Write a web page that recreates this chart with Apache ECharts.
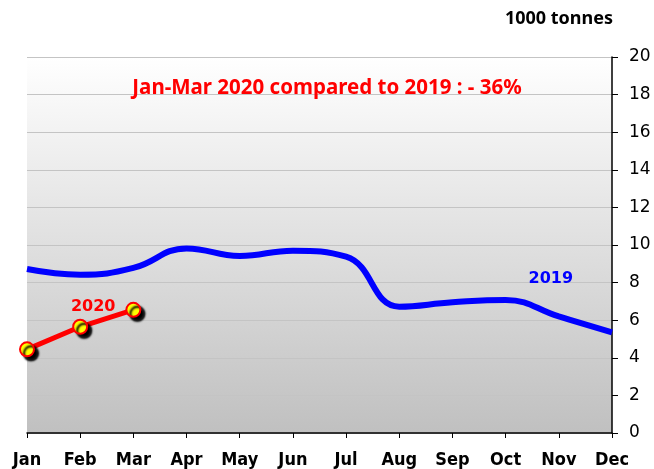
<!DOCTYPE html>
<html>
<head>
<meta charset="utf-8">
<script src="https://cdn.jsdelivr.net/npm/echarts@6/dist/echarts.min.js"></script>
<style>
html,body{margin:0;padding:0;background:#fff;}
#chart{width:654px;height:469px;}
</style>
</head>
<body>
<div id="chart"></div>
<script>
// Monthly volumes, 1000 tonnes
const months = ['Jan','Feb','Mar','Apr','May','Jun','Jul','Aug','Sep','Oct','Nov','Dec'];
const values2019 = [8.72, 8.42, 8.78, 9.82, 9.42, 9.7, 9.38, 6.72, 6.95, 7.08, 6.2, 5.35];
const values2020 = [4.45, 5.65, 6.55];
const yTicks = [0, 2, 4, 6, 8, 10, 12, 14, 16, 18, 20];

const chart = echarts.init(document.getElementById('chart'));

const seriesLabelFont = { fontFamily: 'DejaVu Sans', fontWeight: 'bold', fontSize: 16 };

chart.setOption({
  animation: false,
  title: [
    {
      text: 'Jan-Mar 2020 compared to 2019 : - 36%',
      left: 322, top: 73, textAlign: 'center',
      textStyle: { color: '#ff0000', fontFamily: 'Noto Sans', fontWeight: 'bold', fontSize: 20.5 }
    },
    {
      text: '1000 tonnes',
      right: 36, top: 5,
      textStyle: { color: '#000', fontFamily: 'Noto Sans', fontWeight: 'bold', fontSize: 18 }
    }
  ],
  grid: {
    left: 27, right: 42, top: 57, bottom: 34,
    show: true, borderWidth: 0,
    backgroundColor: {
      type: 'linear', x: 0, y: 0, x2: 0, y2: 1,
      colorStops: [{ offset: 0, color: '#ffffff' }, { offset: 1, color: '#c0c0c0' }]
    }
  },
  xAxis: {
    type: 'category',
    data: months,
    boundaryGap: false,
    axisLine: { lineStyle: { color: '#000', width: 1.5 } },
    axisTick: { show: true, length: 5, lineStyle: { color: '#000' } },
    axisLabel: {
      color: '#000', fontFamily: 'DejaVu Sans Condensed', fontWeight: 'bold', fontSize: 18,
      margin: 18, interval: 0
    }
  },
  yAxis: {
    type: 'value',
    position: 'right',
    min: yTicks[0], max: yTicks[yTicks.length - 1], interval: 2,
    axisLine: { show: true, lineStyle: { color: '#000', width: 1.5 } },
    axisTick: { show: true, length: 6, lineStyle: { color: '#000' } },
    axisLabel: { color: '#000', fontFamily: 'DejaVu Sans', fontSize: 17, margin: 17 },
    splitLine: { show: true, lineStyle: { color: '#c4c4c4', width: 1.2 } }
  },
  series: [
    {
      name: '2019',
      type: 'line',
      smooth: 0.45,
      data: values2019,
      symbol: 'none',
      lineStyle: { color: '#0000ff', width: 6 },
      markPoint: {
        symbol: 'circle', symbolSize: 0,
        data: [{ coord: [months[10], values2019[10]] }],
        label: Object.assign({
          show: true, formatter: '2019', position: 'top', offset: [-8, -25], color: '#0000ff'
        }, seriesLabelFont)
      },
      z: 3
    },
    {
      name: '2020',
      type: 'line',
      data: values2020.map((v, i) => i === 1 ? {
        value: v,
        label: Object.assign({
          show: true, formatter: '2020', position: 'top', offset: [13, 1], color: '#ff0000'
        }, seriesLabelFont)
      } : v),
      symbol: 'circle',
      symbolSize: 14,
      lineStyle: { color: '#ff0000', width: 5 },
      itemStyle: {
        color: '#ffff00', borderColor: '#ff0000', borderWidth: 2,
        shadowColor: 'rgba(0,0,0,1)', shadowBlur: 2, shadowOffsetX: 4, shadowOffsetY: 4
      },
      z: 4
    }
  ]
});
</script>
</body>
</html>
